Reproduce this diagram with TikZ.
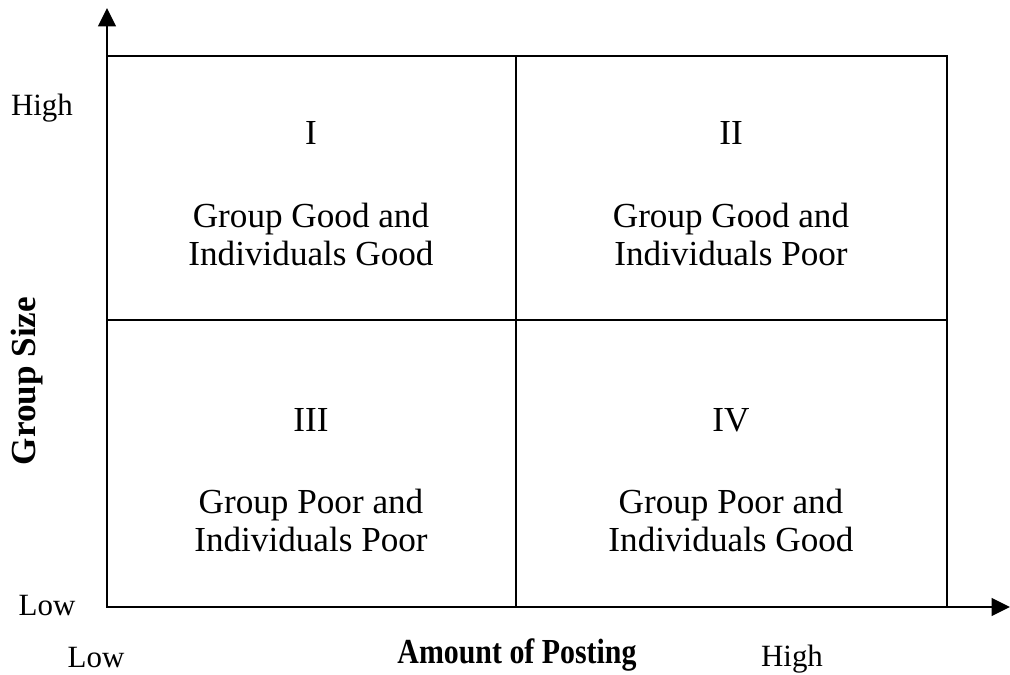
\documentclass[tikz,border=0pt]{standalone}
\usepackage{fontspec}
\setmainfont{Liberation Serif}
\usepackage{tikz}
\usetikzlibrary{arrows.meta, positioning}

\begin{document}
\begin{tikzpicture}[
    x=0.025cm, y=-0.025cm,
    every node/.style={inner sep=0pt, outer sep=0pt},
    grid/.style={line width=1.4pt, draw=black},
    axis/.style={-{Triangle[length=4.6mm, width=4.4mm]}, line width=1.6pt},
    numeral/.style={font=\fontsize{25}{27}\selectfont},
    cell/.style={align=center, font=\fontsize{25}{27}\selectfont},
    lbl/.style={font=\fontsize{22}{24}\selectfont},
    axislbl/.style={font=\fontsize{25}{27}\selectfont\bfseries}
]
    \useasboundingbox (0,0) rectangle (1010,675);

    % axes and grid
    \coordinate (origin) at (107,607);
    \coordinate (ytip) at (107,8);
    \coordinate (xtip) at (1010,607);
    \coordinate (nw) at (107,56);
    \coordinate (se) at (947,607);
    \coordinate (midtop) at (516,56);
    \coordinate (midbot) at (516,607);
    \coordinate (midleft) at (107,320);
    \coordinate (midright) at (947,320);

    \draw[grid] (nw) rectangle (se);
    \draw[grid] (midtop) -- (midbot);
    \draw[grid] (midleft) -- (midright);
    \draw[axis] (origin) -- (ytip);
    \draw[axis] (origin) -- (xtip);

    % quadrants
    \node[numeral] (q1) at (311,133) {I};
    \node[cell] (t1) at (311,234) {Group Good and\\Individuals Good};
    \node[numeral] (q2) at (731,133) {II};
    \node[cell] (t2) at (731,234) {Group Good and\\Individuals Poor};
    \node[numeral] (q3) at (311,420) {III};
    \node[cell] (t3) at (311,520) {Group Poor and\\Individuals Poor};
    \node[numeral] (q4) at (731,420) {IV};
    \node[cell] (t4) at (731,520) {Group Poor and\\Individuals Good};

    % axis labels
    \node[lbl] (yhigh) at (42,108) {High};
    \node[lbl] (ylow) at (47,606) {Low};
    \node[lbl] (xlow) at (96,658) {Low};
    \node[lbl] (xhigh) at (792,659) {High};
    \node[axislbl] (xname) at (517,655) {\scalebox{0.85}[1]{Amount of Posting}};
    \node[axislbl, rotate=90] (yname) at (27,381) {Group Size};
\end{tikzpicture}
\end{document}
